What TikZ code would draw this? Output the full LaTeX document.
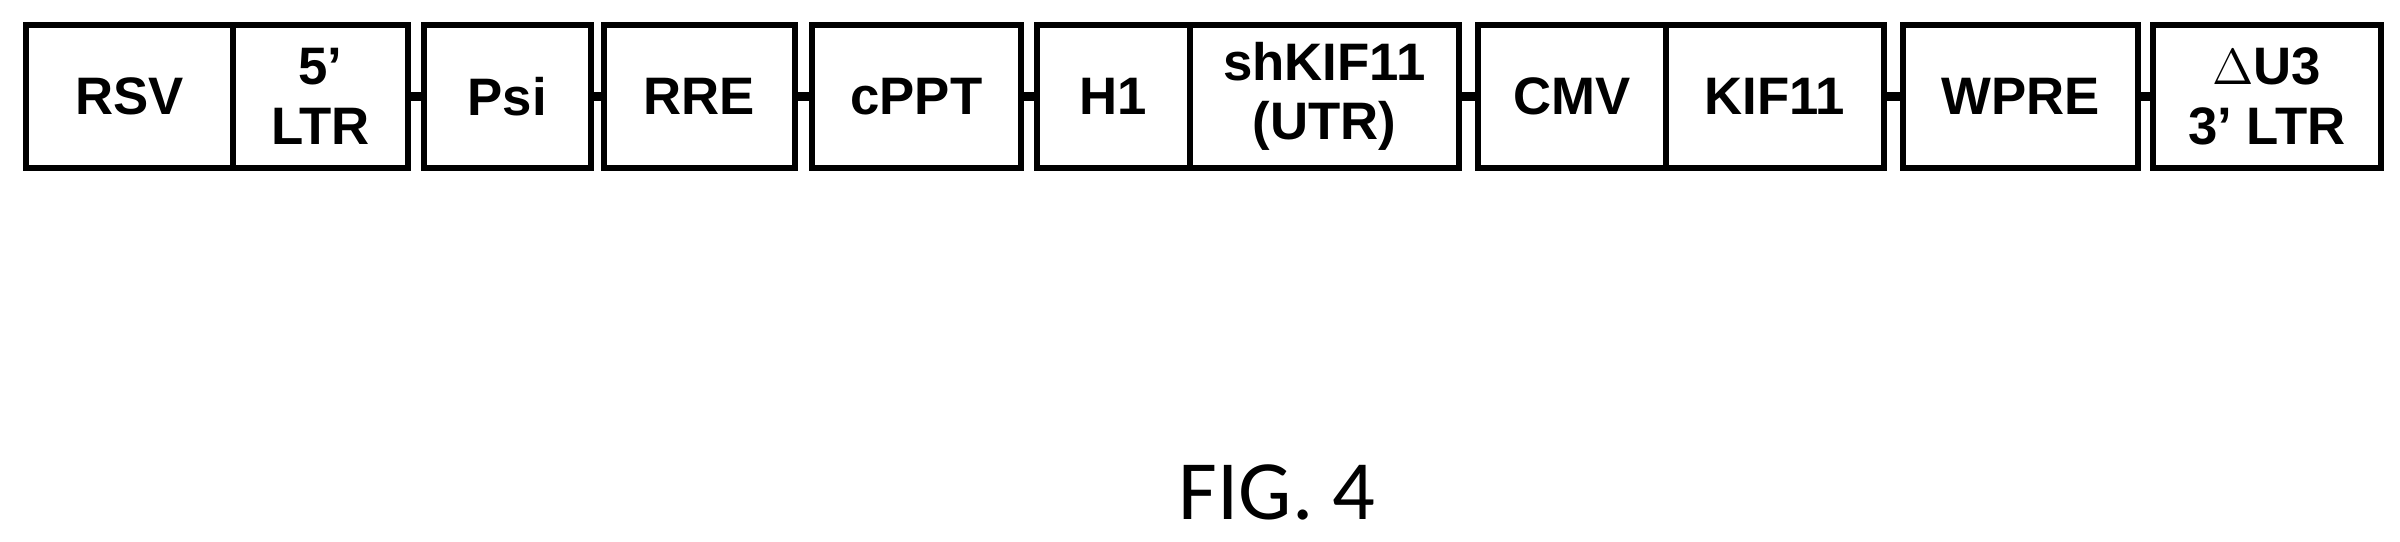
\documentclass[tikz,border=0pt]{standalone}
\usepackage{fontspec}
\setmainfont{Liberation Sans}
\newfontfamily\figfont{Carlito}
\usetikzlibrary{positioning}
\tikzset{element/.style={draw,line width=1.6pt,minimum height=1.43cm,inner sep=0pt,
  font=\fontsize{15}{17}\selectfont\bfseries,align=center,anchor=north west}}
\tikzset{link/.style={line width=2.4pt}}
\begin{document}
\begin{tikzpicture}[x=0.01cm,y=-0.01cm]
    \useasboundingbox (0,0) rectangle (2400,541);
    \node[element,minimum width=2.07cm] (rsv) at (23,22) {RSV};
    \node[element,minimum width=1.75cm] (ltr5) at (230,22) {5'\\LTR};
    \node[element,minimum width=1.67cm] (psi) at (421,22) {Psi};
    \node[element,minimum width=1.91cm] (rre) at (601,22) {RRE};
    \node[element,minimum width=2.09cm] (cppt) at (809,22) {cPPT};
    \node[element,minimum width=1.53cm] (h1) at (1034,22) {H1};
    \node[element,minimum width=2.69cm] (shkif) at (1187,22) {shKIF11\\(UTR)};
    \node[element,minimum width=1.88cm] (cmv) at (1475,22) {CMV};
    \node[element,minimum width=2.18cm] (kif) at (1663,22) {KIF11};
    \node[element,minimum width=2.35cm] (wpre) at (1900,22) {WPRE};
    \node[element,minimum width=2.28cm] (ltr3) at (2150,22) {$\Delta$U3\\3' LTR};
    % linkers between the elements
    \foreach \a/\b in {ltr5/psi,psi/rre,rre/cppt,cppt/h1,shkif/cmv,kif/wpre,wpre/ltr3}
        \draw[link] (\a.east) -- (\b.west);
    \node[font=\figfont\fontsize{24}{28}\selectfont] (fig) at (1277,492) {FIG. 4};
\end{tikzpicture}
\end{document}
